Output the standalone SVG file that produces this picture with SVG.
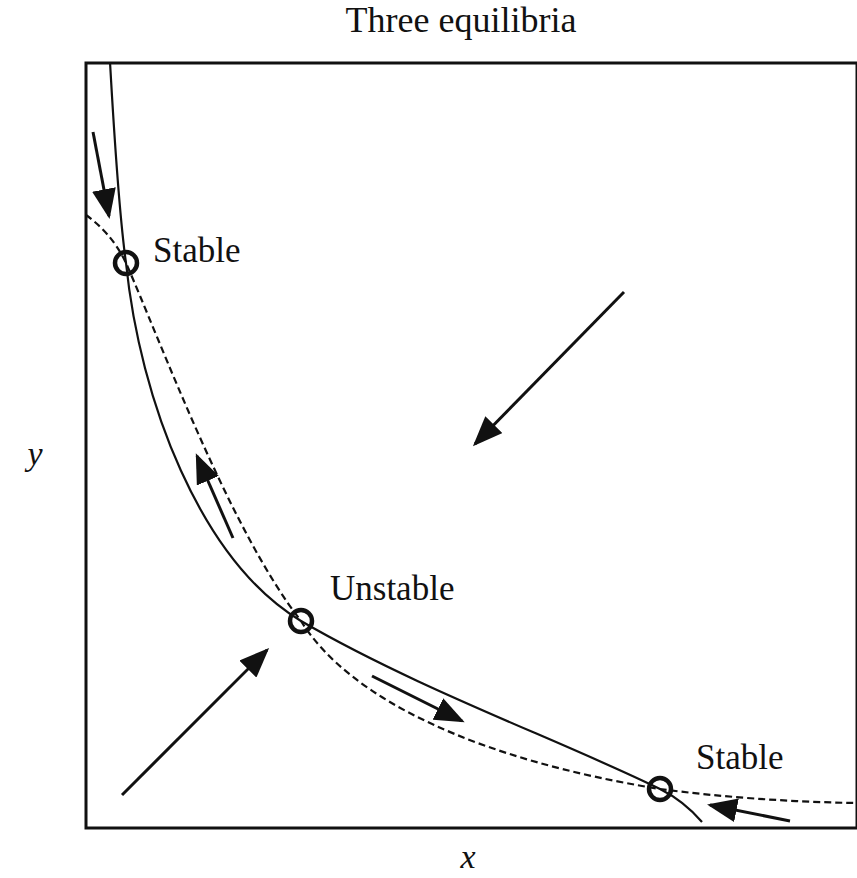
<svg xmlns="http://www.w3.org/2000/svg" width="857" height="878" viewBox="0 0 857 878">
<style>
text{font-family:"Liberation Serif","Times New Roman",serif;fill:#111}
.lbl{font-size:35px}
.ax{font-size:34px;font-style:italic}
.solid{fill:none;stroke:#111;stroke-width:2.2}
.dash{fill:none;stroke:#111;stroke-width:2.2;stroke-dasharray:7 4}
.arr{fill:none;stroke:#111;stroke-width:3}
.eq{fill:none;stroke:#111;stroke-width:4.5}
</style>
<defs>
<marker id="ah" markerWidth="10" markerHeight="8" refX="9" refY="4" orient="auto" markerUnits="strokeWidth">
<path d="M0,0 L10,4 L0,8 Z" fill="#111"/>
</marker>
</defs>
<rect x="0" y="0" width="857" height="878" fill="#fff"/>
<text x="461" y="32" text-anchor="middle" style="font-size:36px">Three equilibria</text>
<rect x="86" y="63" width="771" height="765" fill="none" stroke="#111" stroke-width="3"/>
<text class="ax" x="35" y="465" text-anchor="middle">y</text>
<text class="ax" x="468" y="868" text-anchor="middle">x</text>
<g id="curves">
<path class="solid" d="M110,62 C115,150 120,220 126,263 C140,400 200,560 301,621 C420,690 560,740 660,789 C678,798 690,808 702,822"/>
<path class="dash" d="M86,215 C100,225 115,240 126,263 C160,340 230,530 301,621 C350,700 480,760 660,789 C720,797 790,802 856,803"/>
</g>
<g id="connectors">
<line class="arr" x1="93" y1="132" x2="109" y2="216" marker-end="url(#ah)"/>
<line class="arr" x1="624" y1="292" x2="475" y2="444" marker-end="url(#ah)"/>
<line class="arr" x1="233" y1="538" x2="197" y2="456" marker-end="url(#ah)"/>
<line class="arr" x1="122" y1="795" x2="267" y2="650" marker-end="url(#ah)"/>
<line class="arr" x1="372" y1="676" x2="462" y2="721" marker-end="url(#ah)"/>
<line class="arr" x1="790" y1="821" x2="710" y2="805" marker-end="url(#ah)"/>
</g>
<g id="stable-top">
<circle class="eq" cx="126" cy="263" r="11"/>
<text class="lbl" x="153" y="262">Stable</text>
</g>
<g id="unstable">
<circle class="eq" cx="301" cy="621" r="11"/>
<text class="lbl" x="330" y="600">Unstable</text>
</g>
<g id="stable-bottom">
<circle class="eq" cx="660" cy="789" r="11"/>
<text class="lbl" x="696" y="769">Stable</text>
</g>
</svg>
